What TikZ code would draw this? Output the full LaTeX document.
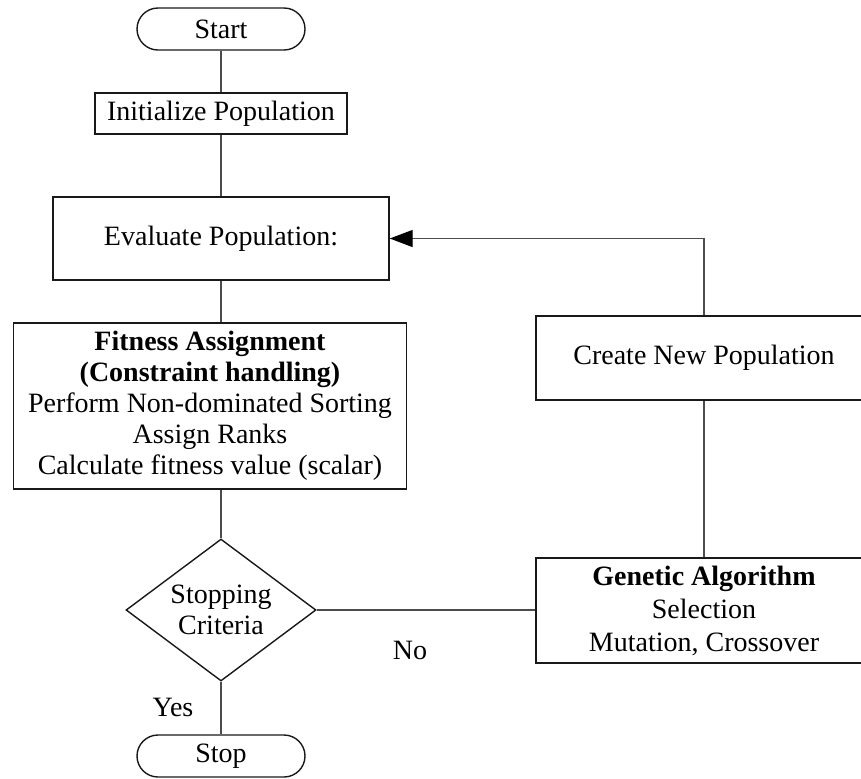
\documentclass[tikz,border=0pt]{standalone}
\usepackage{fontspec}
\setmainfont{Liberation Serif}
\usetikzlibrary{arrows.meta,shapes.geometric}
\begin{document}
\begin{tikzpicture}[x=0.5pt,y=-0.5pt,
  every node/.style={font=\fontsize{14}{15.5}\selectfont},
  box/.style={draw=black!90, line width=0.7pt, inner sep=0pt, align=center},
  terminal/.style={box, rounded corners=10.5pt, minimum width=84pt, minimum height=21pt},
  decision/.style={box, diamond, aspect=1.34, minimum width=95pt, minimum height=71pt},
  link/.style={draw=black!70, line width=0.7pt},
  arrowlink/.style={link, -{Triangle[length=11.5pt,width=8.5pt,black]}},
  tag/.style={inner sep=0pt}
]
\useasboundingbox (0,0) rectangle (861,778);

% process steps
\node[terminal] (start) at (221,29) {Start};
\node[box, minimum width=126pt, minimum height=20.5pt] (init) at (221,113.5) {Initialize Population};
\node[box, minimum width=168pt, minimum height=41.5pt] (eval) at (221,238.5) {Evaluate Population:};
\node[box, minimum width=196.5pt, minimum height=83pt] (fit) at (210,406)
  {\textbf{Fitness Assignment}\\\textbf{(Constraint handling)}\\Perform Non-dominated Sorting\\Assign Ranks\\Calculate fitness value (scalar)};
\node[decision] (crit) at (221,610) {Stopping\\Criteria};
\node[terminal] (stop) at (221,756) {Stop};
\node[box, minimum width=168pt, minimum height=42pt] (create) at (704,358) {Create New Population};
\node[box, minimum width=168pt, minimum height=52.5pt, font=\fontsize{14}{16.5}\selectfont] (ga) at (704,610.5)
  {\textbf{Genetic Algorithm}\\Selection\\Mutation, Crossover};

% branch labels
\node[tag] (no) at (410,650) {No};
\node[tag] (yes) at (173,707) {Yes};

% connectors
\draw[link] (start) -- (init);
\draw[link] (init) -- (eval);
\draw[link] (eval.south) -- (eval.south |- fit.north);
\draw[link] (crit.north |- fit.south) -- (crit.north);
\draw[link] (crit) -- (stop);
\draw[link] (crit.east) -- (crit.east -| ga.west);
\draw[link] (ga) -- (create);
\draw[arrowlink] (create.north) |- (eval.east);
\end{tikzpicture}
\end{document}
